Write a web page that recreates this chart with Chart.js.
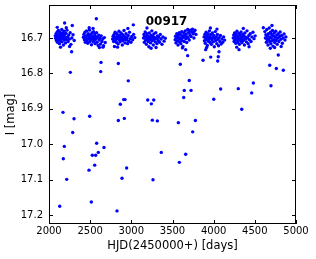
<!DOCTYPE html>
<html>
<head>
<meta charset="utf-8">
<script src="https://cdn.jsdelivr.net/npm/chart.js@4/dist/chart.umd.min.js"></script>
<style>
  html, body { margin: 0; padding: 0; background: #fff; }
</style>
</head>
<body>
<canvas id="lightCurve" width="316" height="259"></canvas>
<script>
// star id shown inside the plot
const starName = "00917"

// axis ticks
const xTicks = [2000, 2500, 3000, 3500, 4000, 4500, 5000]
const yTicks = [16.7, 16.8, 16.9, 17.0, 17.1, 17.2]

// observing seasons: [HJD-2450000, I mag]
const season1 = [[2076,16.694],[2081,16.701],[2086,16.688],[2090,16.707],[2095,16.697],[2099,16.683],[2103,16.712],[2107,16.692],[2111,16.700],[2115,16.679],[2119,16.705],[2123,16.690],[2127,16.716],[2131,16.696],[2135,16.684],[2139,16.703],[2143,16.709],[2147,16.689],[2151,16.698],[2155,16.676],[2159,16.711],[2163,16.693],[2167,16.702],[2171,16.686],[2175,16.720],[2179,16.695],[2183,16.681],[2187,16.706],[2191,16.690],[2196,16.699],[2201,16.714],[2206,16.687],[2212,16.704],[2218,16.678],[2225,16.697],[2232,16.710],[2240,16.692],[2248,16.703],[2257,16.685],[2266,16.718],[2278,16.700],[2292,16.691],[2306,16.707],[2140,16.726],[2210,16.671],[2250,16.724],[2100,16.670]]
const season2 = [[2418,16.698],[2424,16.690],[2430,16.705],[2436,16.684],[2441,16.712],[2446,16.695],[2451,16.701],[2456,16.680],[2461,16.708],[2466,16.693],[2471,16.715],[2476,16.688],[2481,16.702],[2486,16.697],[2491,16.678],[2496,16.710],[2501,16.691],[2506,16.705],[2511,16.699],[2516,16.719],[2521,16.686],[2526,16.703],[2531,16.694],[2536,16.711],[2541,16.682],[2546,16.700],[2551,16.707],[2556,16.689],[2561,16.716],[2566,16.696],[2572,16.703],[2578,16.685],[2584,16.712],[2590,16.698],[2597,16.721],[2604,16.692],[2611,16.706],[2618,16.700],[2626,16.717],[2634,16.694],[2643,16.710],[2652,16.703],[2662,16.722],[2672,16.699],[2683,16.713],[2535,16.673],[2612,16.727],[2655,16.726],[2488,16.671]]
const season3 = [[2773,16.703],[2779,16.695],[2785,16.710],[2791,16.690],[2797,16.700],[2803,16.684],[2809,16.707],[2815,16.697],[2820,16.713],[2825,16.688],[2830,16.702],[2835,16.694],[2840,16.717],[2845,16.699],[2850,16.681],[2855,16.706],[2860,16.692],[2865,16.711],[2870,16.698],[2875,16.686],[2880,16.704],[2885,16.700],[2890,16.720],[2895,16.691],[2900,16.708],[2905,16.695],[2911,16.679],[2917,16.703],[2923,16.714],[2929,16.697],[2935,16.688],[2941,16.706],[2948,16.700],[2955,16.716],[2962,16.693],[2970,16.709],[2978,16.684],[2986,16.702],[2995,16.712],[3005,16.696],[3016,16.705],[3028,16.690],[3042,16.699],[2832,16.726],[2958,16.673],[2795,16.724]]
const season4 = [[3148,16.700],[3153,16.690],[3158,16.712],[3163,16.695],[3168,16.683],[3173,16.706],[3178,16.698],[3183,16.718],[3188,16.688],[3193,16.703],[3198,16.694],[3203,16.710],[3208,16.700],[3213,16.725],[3218,16.686],[3223,16.705],[3228,16.697],[3233,16.714],[3238,16.692],[3243,16.702],[3249,16.680],[3255,16.708],[3261,16.696],[3267,16.720],[3273,16.689],[3279,16.704],[3285,16.699],[3291,16.711],[3297,16.685],[3304,16.701],[3311,16.716],[3318,16.694],[3326,16.707],[3334,16.698],[3343,16.712],[3352,16.690],[3362,16.703],[3372,16.718],[3384,16.697],[3398,16.709],[3412,16.701],[3190,16.672],[3300,16.727],[3240,16.729]]
const season5 = [[3532,16.705],[3537,16.695],[3542,16.714],[3547,16.700],[3552,16.688],[3557,16.709],[3562,16.697],[3567,16.720],[3572,16.692],[3577,16.704],[3582,16.685],[3587,16.711],[3592,16.699],[3597,16.690],[3602,16.716],[3607,16.703],[3612,16.682],[3617,16.707],[3622,16.694],[3627,16.724],[3632,16.698],[3637,16.686],[3643,16.710],[3649,16.693],[3655,16.680],[3661,16.702],[3667,16.689],[3673,16.713],[3679,16.697],[3685,16.676],[3691,16.700],[3697,16.684],[3704,16.706],[3711,16.691],[3718,16.678],[3726,16.696],[3734,16.683],[3743,16.675],[3752,16.688],[3762,16.682],[3773,16.678],[3785,16.690],[3760,16.700],[3620,16.728]]
const season6 = [[3883,16.697],[3888,16.708],[3893,16.690],[3898,16.715],[3903,16.700],[3908,16.684],[3913,16.705],[3918,16.694],[3923,16.721],[3928,16.698],[3933,16.688],[3938,16.710],[3943,16.703],[3948,16.680],[3953,16.695],[3958,16.713],[3963,16.700],[3968,16.690],[3973,16.718],[3978,16.705],[3984,16.686],[3990,16.699],[3996,16.711],[4002,16.693],[4008,16.725],[4014,16.702],[4020,16.682],[4026,16.707],[4032,16.697],[4038,16.716],[4045,16.690],[4052,16.704],[4059,16.722],[4066,16.699],[4074,16.710],[4082,16.693],[4091,16.717],[4100,16.703],[4110,16.712],[4121,16.697],[4133,16.706],[3960,16.672],[4040,16.675],[3915,16.727]]
const season7 = [[4238,16.700],[4243,16.692],[4248,16.710],[4253,16.686],[4258,16.703],[4263,16.696],[4268,16.715],[4273,16.689],[4278,16.706],[4283,16.681],[4288,16.699],[4293,16.712],[4298,16.694],[4303,16.704],[4308,16.687],[4313,16.718],[4318,16.700],[4323,16.691],[4328,16.708],[4333,16.683],[4338,16.697],[4343,16.713],[4349,16.702],[4355,16.690],[4361,16.707],[4367,16.695],[4373,16.720],[4379,16.686],[4385,16.703],[4391,16.698],[4398,16.711],[4405,16.680],[4412,16.700],[4419,16.716],[4427,16.693],[4435,16.705],[4444,16.688],[4454,16.710],[4465,16.697],[4477,16.684],[4490,16.702],[4504,16.694],[4360,16.673],[4430,16.725],[4280,16.726]]
const season8 = [[4622,16.682],[4628,16.700],[4634,16.691],[4640,16.712],[4645,16.676],[4650,16.705],[4655,16.695],[4660,16.720],[4665,16.688],[4670,16.703],[4675,16.672],[4680,16.710],[4685,16.697],[4690,16.684],[4695,16.716],[4700,16.700],[4705,16.690],[4710,16.708],[4715,16.679],[4720,16.723],[4725,16.694],[4730,16.705],[4736,16.686],[4742,16.713],[4748,16.698],[4754,16.681],[4760,16.707],[4766,16.692],[4772,16.718],[4778,16.701],[4785,16.688],[4792,16.710],[4800,16.696],[4808,16.683],[4816,16.704],[4825,16.693],[4834,16.715],[4844,16.700],[4855,16.689],[4866,16.706],[4877,16.697],[4740,16.727],[4820,16.724]]

// fainter points (dips / bad frames)
const outliers = [[2190,16.658],[2283,16.665],[2275,16.739],[2259,16.797],[2170,16.910],
  [2575,16.646],[2632,16.769],[2628,16.795],
  [2304,16.928],[2494,16.921],[2288,16.967],[2186,17.006],[2579,16.997],[2668,17.009],[2599,17.023],[2526,17.031],[2567,17.031],[2174,17.041],[2555,17.059],[2486,17.073],[2215,17.099],[2514,17.163],[2130,17.175],
  [3024,16.663],[2842,16.772],[2963,16.821],[2907,16.874],[2923,16.874],[2866,16.887],[3199,16.875],[3272,16.875],[3243,16.886],
  [2842,16.933],[2915,16.927],[3255,16.932],[3316,16.934],[3364,17.023],[2943,17.067],[2887,17.096],[3263,17.100],[2826,17.188],
  [3660,16.733],[3684,16.750],[3595,16.774],[3903,16.733],[4065,16.739],[3964,16.754],[4056,16.753],[3871,16.763],[4049,16.765],[3704,16.820],[4085,16.844],[3643,16.848],[3725,16.848],[3636,16.868],[4001,16.873],
  [3571,16.939],[3778,16.933],[3745,16.965],[3660,17.028],[3583,17.051],
  [4308,16.733],[4688,16.729],[4785,16.748],[4681,16.777],[4761,16.786],[4846,16.791],[4482,16.827],[4299,16.843],[4696,16.835],[4462,16.855],[4341,16.901],[4603,16.671],[4708,16.665]]

const allPoints = [season1, season2, season3, season4, season5, season6, season7, season8, outliers]
  .flat()
  .map(([x, y]) => ({ x, y }))

// frame, inward ticks on all sides and the star name
const framePlugin = {
  id: "framePlugin",
  afterDraw(chart) {
    const { ctx, chartArea: a, scales } = chart
    ctx.save()
    ctx.strokeStyle = "#000"
    ctx.lineWidth = 1
    ctx.strokeRect(a.left + 0.5, a.top + 0.5, a.right - a.left - 1, a.bottom - a.top - 1)
    ctx.beginPath()
    xTicks.forEach((v) => {
      const px = Math.round(scales.x.getPixelForValue(v)) + 0.5
      ctx.moveTo(px, a.bottom); ctx.lineTo(px, a.bottom - 4)
      ctx.moveTo(px, a.top); ctx.lineTo(px, a.top + 4)
    })
    yTicks.forEach((v) => {
      const py = Math.round(scales.y.getPixelForValue(v)) + 0.5
      ctx.moveTo(a.left, py); ctx.lineTo(a.left + 4, py)
      ctx.moveTo(a.right, py); ctx.lineTo(a.right - 4, py)
    })
    ctx.stroke()
    ctx.fillStyle = "#000"
    ctx.font = "bold 12px 'DejaVu Sans'"
    ctx.textAlign = "center"
    ctx.textBaseline = "middle"
    ctx.fillText(starName, a.left + (a.right - a.left) * 0.476, a.top + 17)
    ctx.restore()
  },
}

const ctx = document.getElementById("lightCurve").getContext("2d")
new Chart(ctx, {
  type: "scatter",
  data: {
    datasets: [
      {
        data: allPoints,
        backgroundColor: "#0000ff",
        borderWidth: 0,
        pointRadius: 1.7,
      },
    ],
  },
  options: {
    responsive: false,
    animation: false,
    events: [],
    layout: { padding: { left: 0, right: 20, top: 5, bottom: 0 } },
    plugins: { legend: { display: false }, tooltip: { enabled: false } },
    scales: {
      x: {
        type: "linear",
        min: 2000,
        max: 5000,
        afterBuildTicks: (s) => { s.ticks = xTicks.map((v) => ({ value: v })) },
        afterFit: (s) => { s.height = 35; s.paddingLeft = 0; s.paddingRight = 0 },
        grid: { display: false, drawTicks: false },
        border: { display: false },
        ticks: {
          color: "#000",
          padding: 1,
          maxRotation: 0,
          font: { family: "DejaVu Sans", size: 10 },
          callback: (v) => String(v),
        },
        title: {
          display: true,
          text: "HJD(2450000+) [days]",
          color: "#000",
          padding: { top: 0, bottom: 6 },
          font: { family: "DejaVu Sans", size: 11.5 },
        },
      },
      y: {
        type: "linear",
        reverse: true,
        min: 16.607,
        max: 17.225,
        afterBuildTicks: (s) => { s.ticks = yTicks.map((v) => ({ value: v })) },
        afterFit: (s) => { s.width = 49; s.paddingTop = 0; s.paddingBottom = 0 },
        grid: { display: false, drawTicks: false },
        border: { display: false },
        ticks: {
          color: "#000",
          padding: 6,
          font: { family: "DejaVu Sans", size: 10 },
          callback: (v) => v.toFixed(1),
        },
        title: {
          display: true,
          text: "I [mag]",
          color: "#000",
          padding: { top: 4, bottom: 0 },
          font: { family: "DejaVu Sans", size: 11.5 },
        },
      },
    },
  },
  plugins: [framePlugin],
})
</script>
</body>
</html>
